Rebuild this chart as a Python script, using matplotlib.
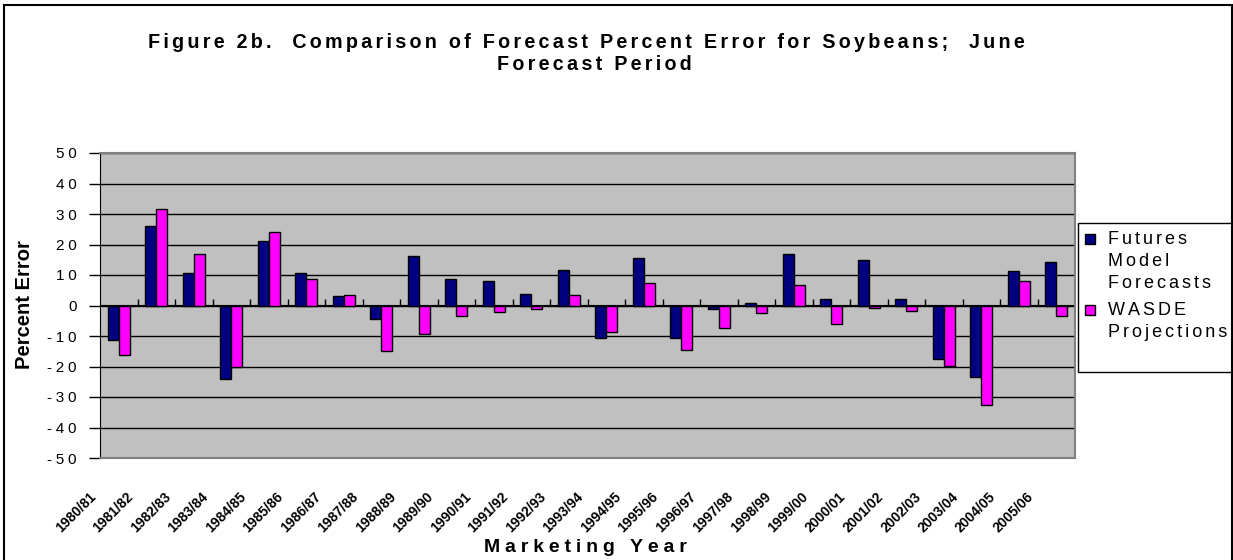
import numpy as np
import matplotlib
matplotlib.use("Agg")
import matplotlib.pyplot as plt
import matplotlib.transforms as mtransforms
from matplotlib.patches import Rectangle

plt.rcParams['font.family'] = ['Liberation Sans', 'DejaVu Sans']

# marketing years and percent errors
years = ["1980/81", "1981/82", "1982/83", "1983/84", "1984/85", "1985/86",
         "1986/87", "1987/88", "1988/89", "1989/90", "1990/91", "1991/92",
         "1992/93", "1993/94", "1994/95", "1995/96", "1996/97", "1997/98",
         "1998/99", "1999/00", "2000/01", "2001/02", "2002/03", "2003/04",
         "2004/05", "2005/06"]
futures = [-11.4, 26.2, 10.5, -24.0, 21.0, 10.5, 3.2, -4.4, 16.2, 8.7,
           7.9, 3.9, 11.8, -10.6, 15.7, -10.6, -1.3, 0.9, 17.0, 2.2,
           15.0, 2.2, -17.6, -23.3, 11.4, 14.3]
wasde = [-16.3, 31.5, 17.0, -20.1, 24.0, 8.7, 3.5, -14.9, -9.2, -3.5,
         -2.2, -1.3, 3.5, -8.7, 7.4, -14.5, -7.4, -2.6, 6.6, -6.1,
         -0.9, -1.7, -19.8, -32.5, 7.9, -3.5]
yticks = [50, 40, 30, 20, 10, 0, -10, -20, -30, -40, -50]
series_names = ["Futures\nModel\nForecasts", "WASDE\nProjections"]
colors = ["#000080", "#FF00FF"]


def spaced(s, n=2):
    # Excel-style letter spacing using hair spaces
    gap = "\u200a" * n
    return "\n".join(gap.join(line) for line in s.split("\n"))


W, H = 1233, 560
fig = plt.figure(figsize=(12.33, 5.6), dpi=100)
ax = fig.add_axes([100 / W, 102 / H, 975 / W, 305 / H])
ax.set_facecolor("#C0C0C0")

x = np.arange(len(years))
w = 0.29
ax.bar(x - w / 2, futures, w, color=colors[0], edgecolor="black", linewidth=1, zorder=3)
ax.bar(x + w / 2, wasde, w, color=colors[1], edgecolor="black", linewidth=1, zorder=3)

ax.set_xlim(-0.5, len(years) - 0.5)
ax.set_ylim(-50, 50)
ax.set_yticks(yticks)
ax.set_yticklabels([spaced(str(v), 3) for v in yticks], fontsize=11)
ax.yaxis.grid(True, color="black", linewidth=1, zorder=1)
ax.set_axisbelow(True)
ax.tick_params(axis="y", length=8, width=1, pad=9)

ax.set_xticks(x)
ax.set_xticklabels(years, rotation=45, ha="right", rotation_mode="anchor",
                   fontsize=10, fontweight="bold")
ax.tick_params(axis="x", length=0, pad=23)
shift = mtransforms.ScaledTranslation(-0.3, 0, fig.dpi_scale_trans)
for lab in ax.get_xticklabels():
    lab.set_transform(lab.get_transform() + shift)

for side in ["top", "right", "bottom"]:
    ax.spines[side].set_color("#808080")
    ax.spines[side].set_linewidth(1.5)
ax.spines["left"].set_color("black")

# category axis crosses at zero
zero = ax.secondary_xaxis(0.5)
zero.set_xticks(x[:-1] + 0.5)
zero.set_xticklabels([])
zero.tick_params(length=4, width=1, direction="out", color="black")
zero.spines["bottom"].set_color("black")

fig.text(586 / W, 1 - 43 / H, spaced("Figure 2b.  Comparison of Forecast Percent Error for Soybeans;  June"),
         ha="center", va="center", fontsize=14.2, fontweight="bold")
fig.text(594 / W, 1 - 65 / H, spaced("Forecast Period"), ha="center", va="center",
         fontsize=14.2, fontweight="bold")
fig.text(585 / W, 1 - 548 / H, spaced("Marketing Year", 3), ha="center", va="center",
         fontsize=14, fontweight="bold")
fig.text(25 / W, 1 - 305 / H, "Percent Error", ha="center", va="center", rotation=90,
         fontsize=14.5, fontweight="bold")

# legend box
fig.add_artist(Rectangle((1078 / W, 1 - 372 / H), 170 / W, 149 / H,
                         transform=fig.transFigure, facecolor="white",
                         edgecolor="black", linewidth=1))
entry_top = [234, 305]
for name, col, top in zip(series_names, colors, entry_top):
    fig.add_artist(Rectangle((1085 / W, 1 - (top + 10) / H), 10 / W, 10 / H,
                             transform=fig.transFigure, facecolor=col,
                             edgecolor="black", linewidth=1))
    fig.text(1108 / W, 1 - (top - 3) / H, spaced(name), ha="left", va="top",
             fontsize=13, linespacing=1.4)

fig.add_artist(Rectangle((4 / W, -0.02), 1228 / W, 1.02 - 5 / H,
                         transform=fig.transFigure, fill=False,
                         edgecolor="black", linewidth=1.5))

fig.savefig("out.png", dpi=100)
